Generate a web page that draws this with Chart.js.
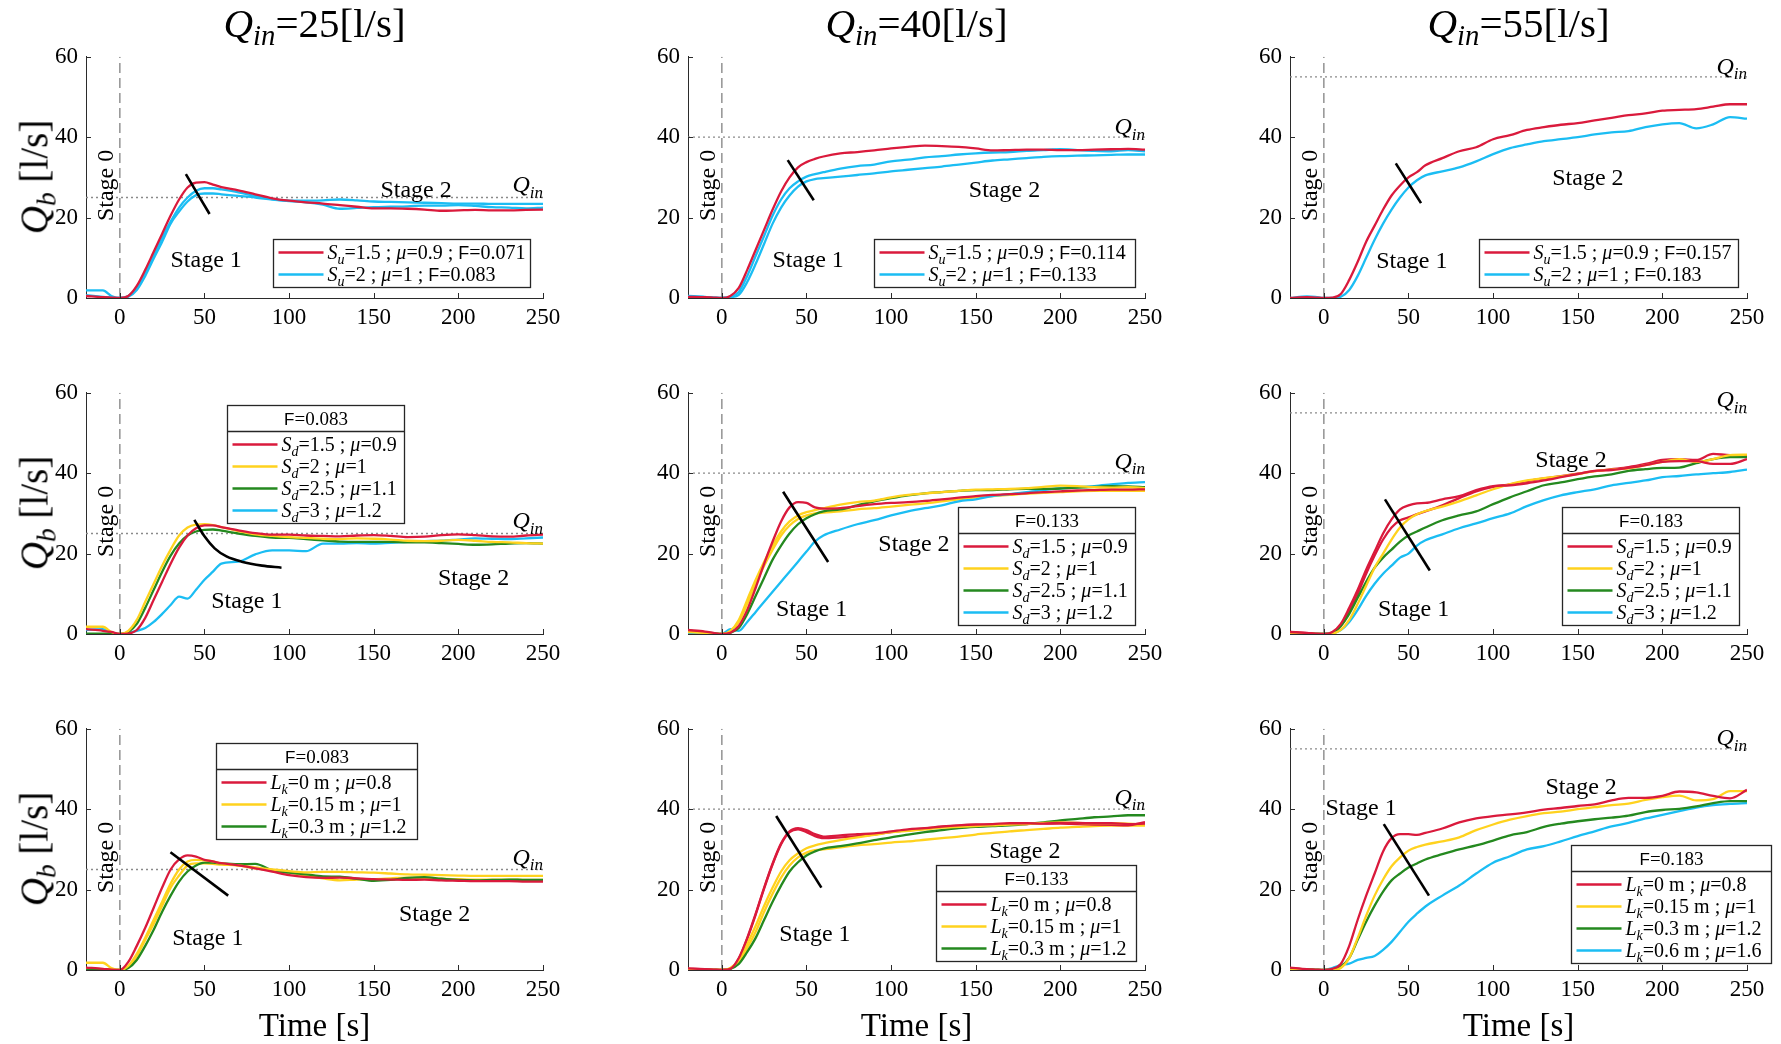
<!DOCTYPE html>
<html>
<head>
<meta charset="utf-8">
<script src="https://cdn.jsdelivr.net/npm/chart.js@4.4.1/dist/chart.umd.min.js"></script>
<style>
  body { margin: 0; background: #fff; }
  #page { position: relative; width: 1781px; height: 1044px; overflow: hidden; font-family: "Liberation Serif", "DejaVu Serif", serif; color: #000; }
  canvas { position: absolute; }
  .lbl { position: absolute; transform: translate(-50%, -50%); white-space: nowrap; line-height: 1; }
  .ttl { font-size: 41px; }
  .ylab { font-size: 39px; transform: translate(-50%, -50%) rotate(-90deg); }
  .xlab { font-size: 33px; }
  .lbl sub { font-size: 0.7em; vertical-align: -0.28em; line-height: 0; }
</style>
</head>
<body>
<div id="page"></div>
<script>
const times = [-20,-10,-5,0,5,10,15,20,25,30,35,40,45,50,55,60,70,80,90,100,110,120,130,140,150,160,170,180,190,200,210,220,230,240,250];
const xTicks = [0, 50, 100, 150, 200, 250];
const yTicks = [0, 20, 40, 60];
const inflows = [25, 40, 55];

// row 1 - upstream slope S_u
const su25Red   = [0.5,0.2,0.1,0,0.5,3,7,11.5,16,20.5,24.5,27.5,28.7,28.8,28.2,27.6,26.8,25.8,24.8,24.2,23.8,23.5,23.1,22.7,22.3,22.3,22.2,22.0,21.7,21.8,21.9,21.8,21.8,21.9,22.0];
const su25CyanA = [1.9,1.9,0.5,0,0.5,2.5,6.5,10.5,15,19,22.5,25,26.7,27.3,27.3,27,26.3,25.4,24.6,24.2,24.2,24.3,24.5,24.3,24.0,23.9,23.8,23.7,23.6,23.5,23.5,23.4,23.4,23.4,23.4];
const su25CyanB = [0.7,0.3,0.1,0,0.3,2,5.5,9.8,14,18.5,21.5,24,25.6,26,26,25.8,25.4,25,24.5,24.1,23.8,23.2,22.2,22.4,22.6,22.7,22.8,23,23,23.1,22.9,22.6,22.5,22.3,22.5];
const su40Red   = [0.3,0.2,0.1,0,0.5,2.5,7,12,17,22,26.5,30,32.5,33.8,34.6,35.2,36,36.3,36.7,37.2,37.6,37.9,37.8,37.6,37.2,36.7,36.8,36.9,36.9,36.8,36.8,36.9,37,37.1,36.9];
const su40CyanA = [0.5,0.3,0.1,0,0.3,1.5,5.5,10.5,15.5,20.5,24.5,27.3,29,30.2,30.8,31.3,32.2,32.8,33.2,34,34.4,35,35.3,35.7,36,36.2,36.3,36.6,36.8,37,36.8,36.6,36.5,36.8,36.5];
const su40CyanB = [0.4,0.2,0.1,0,0.2,0.8,4,8.5,13.5,18.5,22.5,25.5,27.7,29,29.6,29.8,30.2,30.6,31,31.5,31.9,32.3,32.7,33.2,33.7,34.2,34.5,34.8,35.1,35.3,35.4,35.5,35.6,35.7,35.7];
const su55Red   = [0,0.2,0.1,0,0.1,1,4.5,9,14,18,22,25.5,28,30,31.3,33,34.8,36.5,37.5,39.5,40.5,41.8,42.5,43.1,43.5,44.2,44.8,45.5,45.9,46.6,46.8,47,47.6,48.2,48.2];
const su55Cyan  = [0,0.4,0.3,0,0,0.3,2,5.5,10,14.5,18.5,22,25,27.5,29.3,30.5,31.5,32.5,34,35.8,37.3,38.2,39,39.5,40,40.7,41.2,41.5,42.5,43.2,43.5,42.2,43.2,45,44.6];

// row 2 - downstream slope S_d
const sd25Red    = [1.2,0.8,0.5,0,0.1,1,4,8.5,13,17.5,21.5,24.5,26.3,27,27,26.6,25.8,25.1,24.7,24.7,24.5,24.4,24.3,24.5,24.6,24.4,24.1,24.2,24.6,24.8,24.6,24.3,24.2,24.5,24.7];
const sd25Yellow = [1.8,1.8,0.5,0,0.8,3.5,8,12.5,17,21,24.5,26.5,27.2,27.3,27.1,26.6,25.6,24.8,24.4,24.1,23.9,23.7,23.6,23.8,23.7,23.5,23.2,23.1,23.2,23.4,23.2,22.9,22.8,22.6,22.5];
const sd25Green  = [0.1,0.1,0.05,0,0.5,2.5,6.5,11,15.5,19.5,22.5,24.5,25.5,25.9,26,25.7,25,24.4,24,23.9,23.6,23.3,23,22.9,22.9,22.9,22.8,22.8,22.6,22.4,22.2,22.3,22.5,22.6,22.5];
const sd25Cyan   = [1,1.2,0.3,0,0.3,0.8,1.5,3,5,7.2,9.3,8.8,11,13.5,15.5,17.5,18,19.8,20.8,20.8,20.6,22.5,22.5,22.6,22.5,22.7,22.9,23.1,23.2,23.5,23.8,23.7,23.6,23.8,24];
const sd40Red     = [1,0.6,0.3,0,0.3,2,6,11.5,17.5,23,28,31.5,32.8,32.6,31.5,31.2,31.3,31.8,32.3,32.6,32.8,33.1,33.5,33.9,34.3,34.6,34.8,35,35.3,35.5,35.7,35.8,35.9,35.9,36];
const sd40YellowA = [0.5,0.3,0.1,0,0.8,3.5,8.5,13.5,18,22,25.5,28,29.5,30.3,30.8,31.3,32.2,32.8,33.2,34,34.6,35,35.3,35.6,35.9,36,36.1,36.3,36.6,36.9,36.8,36.5,36.4,36.5,36.3];
const sd40YellowB = [0.4,0.2,0.1,0,0.6,3,7.5,12.5,17,21,24.5,27,28.6,29.5,30,30.2,30.5,31,31.3,31.7,32.1,32.5,33,33.5,34,34.3,34.6,34.9,35.1,35.3,35.5,35.6,35.6,35.6,35.6];
const sd40Green   = [0.9,0.4,0.2,0,0.3,1.5,5,9.5,14,18.5,22,25,27.3,28.8,29.8,30.5,31,32,33,33.8,34.5,35,35.3,35.6,35.8,35.8,36,36.1,36.1,36.2,36.4,36.6,36.8,36.7,36.5];
const sd40Cyan    = [0.3,0.2,0.1,0,1.2,0.8,3,5.5,8,10.5,13,15.5,18,20.5,23,24.5,26,27.3,28.3,29.5,30.5,31.3,32,33,33.5,34.3,34.8,35.3,35.8,36.2,36.5,36.8,37.2,37.6,37.8];
const sd55RedA   = [0.5,0.3,0.1,0,0.5,2.5,6.5,11,16,20.5,25,28.5,31,32,32.5,32.6,33.5,34.3,35.8,36.8,37,37.5,38.2,39,39.8,40.6,40.8,41.3,42,42.8,43,43,42.3,42.3,43.5];
const sd55RedB   = [0.5,0.2,0.1,0,0.3,2,5.5,10,15,19.5,23.5,26.5,28.3,29,29.8,30.5,32,33.8,35.5,36.6,37.2,38,38.7,39.3,39.9,40.5,41,41.5,42.3,43.3,43.5,43.3,44.8,44.5,44.5];
const sd55Yellow = [0.3,0.1,0.05,0,0.1,1,3.5,7.5,12,16.5,20,23.5,26.5,28.5,29.8,30.6,31.7,33,34.5,36,37.3,38.2,38.8,39.2,39.8,40.5,40.9,41.2,42,42.8,43.5,42.8,43.5,44.5,44.6];
const sd55Green  = [0,0,0,0,0.3,2,5,9,13,16.5,19,21,23,24.5,25.5,26.5,28.3,29.5,30.5,32.3,34,35.5,37,37.7,38.5,39.2,39.7,40.6,41,41.3,41.4,42.5,43.5,44,44];
const sd55Cyan   = [0,0,0,0,0.2,1,3,6,9.5,12.5,15,17,19,20,22,23.3,24.8,26.3,27.5,28.8,30,31.8,33.3,34.5,35.3,36,37,37.6,38.2,39,39.3,39.7,40,40.3,40.9];

// row 3 - step length L_k
const lk25Red     = [0.6,0.3,0.1,0,2,6,10.5,15.5,20.5,25,27.5,28.5,28.2,27.4,27,26.6,26,25.3,24.5,23.6,23.1,22.9,23,22.8,22.6,22.5,22.4,22.5,22.3,22.2,22.1,22.1,22.1,22,22];
const lk25YellowA = [1.8,1.8,0.5,0,1,4,8,12.5,17,21.5,25,27,27.4,27.3,27,26.5,26,25.5,25,24.6,24.3,24.4,24.4,24.3,24.2,24,23.8,23.7,23.6,23.5,23.4,23.4,23.4,23.4,23.4];
const lk25YellowB = [0.5,0.2,0.1,0,0.8,3.5,7.5,11.5,16,20.5,23.5,26,26.5,26.5,26.4,26.2,26,25.3,24.8,24.2,23.5,22.8,22.3,22.5,22.6,22.8,23,22.9,22.7,22.6,22.5,22.5,22.5,22.4,22.4];
const lk25Green   = [0,0,0,0,0.5,2.5,6,10,14.5,18.5,22,24.5,26,26.7,26.7,26.5,26.3,26.4,24.8,24.2,23.8,23.3,23.2,22.7,22.2,22.4,22.9,23.1,22.7,22.4,22.3,22.4,22.5,22.4,22.4];
const lk40RedA    = [0.4,0.2,0.1,0,0.3,3,8,14,20.5,26.5,31.5,34.5,35.3,34.8,33.8,33.2,33.5,33.8,34,34.5,35,35.3,35.7,36,36.2,36.3,36.5,36.5,36.4,36.6,36.6,36.5,36.5,36.3,36.4];
const lk40RedB    = [0.3,0.2,0.1,0,0.3,2.8,7.8,13.8,20.3,26.3,31.3,34.3,35,34.3,33.3,32.8,33,33.3,33.7,34.3,34.8,35.2,35.6,35.9,36.1,36.2,36.3,36.3,36.5,36.4,36.3,36.2,36.1,36,36.8];
const lk40YellowA = [0.3,0,0,0,0.5,2.5,6.5,11,16,20.5,24.5,27.3,29,30.3,31,31.5,32.3,33,33.6,34.3,34.6,35,35.4,35.6,35.8,36,36.2,36.3,36.6,36.7,36.6,36.5,36.5,36.4,36.1];
const lk40YellowB = [0.2,0,0,0,0.3,2,5.5,9.5,14.5,19,23,26,28,29.2,29.8,30,30.5,31,31.3,31.7,32,32.4,32.8,33.2,33.7,34.1,34.5,34.8,35.1,35.4,35.6,35.8,35.9,35.9,35.9];
const lk40Green   = [0,0,0,0,0.3,1.5,4.5,8,12.5,17,21,24.5,26.8,28.5,29.5,30.2,30.8,31.5,32.3,33,33.7,34.3,34.8,35.3,35.6,35.8,36,36.3,36.7,37.2,37.6,38,38.2,38.5,38.5];
const lk55Red     = [0.6,0.2,0.1,0,0.3,1.5,6,12.5,18.5,24,29.5,32.8,33.8,33.8,33.6,34.1,35.2,36.7,37.7,38.3,38.7,39.2,39.9,40.3,40.8,41.2,42.2,42.8,42.8,43.3,44.4,44.2,43.3,42.7,44.8];
const lk55Yellow  = [0,0,0,0,0,0.5,3,8,13.5,18.5,22.5,25.8,28,29.7,30.6,31.2,32,33,34.8,36.2,37.4,38.3,39,39.4,40,40.5,41,41.4,42.3,43,43.4,42.2,42.5,44.5,44.5];
const lk55Green   = [0.3,0.2,0.1,0,0.2,0.8,3,7.5,12,16,19.5,22.3,24,25.5,26.5,27.5,28.8,30,31,32.2,33.5,34.3,35.6,36.4,37,37.5,37.9,38.4,39.3,39.8,40.1,40.7,41.5,42,42];
const lk55Cyan    = [0,0,0,0,0.5,1.2,1.6,2.5,3,3.5,5,7,9.5,12,14,15.8,18.5,21,24,26.7,28.3,30,30.8,32,33.3,34.5,35.7,36.6,37.7,38.6,39.5,40.4,41,41.3,41.5];

// stage 1 / stage 2 boundary marks [t, Q]
const cutSu25 = [[39,30.8],[53,20.9]];
const cutSu40 = [[38.9,34.3],[54.3,24.3]];
const cutSu55 = [[42.5,33.5],[57.4,23.6]];
const cutSd25 = [[44,28.4],[50,24.3],[56,21.3],[63,19.3],[72,18],[84,17],[95.5,16.5]];
const cutSd40 = [[36.2,35.4],[62.8,17.9]];
const cutSd55 = [[36.1,33.5],[62.6,15.8]];
const cutLk25 = [[29.9,29.3],[64,18.5]];
const cutLk40 = [[32.1,38.3],[58.8,20.5]];
const cutLk55 = [[35.4,36.3],[62.1,18.5]];

const RED = '#DA1A3C', YEL = '#FFD21E', GRN = '#24891F', CYN = '#1BBDF3';
const AXIS = '#2b2b2b';
const SERIF = '"Liberation Serif", "DejaVu Serif", serif';
const SANS = '"Liberation Sans", "DejaVu Sans", sans-serif';

const su = (s, m, f) => `{i:S}{sub:u}=${s} ; {i:μ}=${m} ; {sf:F}=${f}`;
const sd = (s, m) => `{i:S}{sub:d}=${s} ; {i:μ}=${m}`;
const lk = (l, m) => `{i:L}{sub:k}=${l} m ; {i:μ}=${m}`;

const panels = [
  { row: 0, col: 0, q: 25, cut: cutSu25, s1: [51, 9.7], s2: [175, 27.2], qLab: 28.3,
    box: { dx: 187, dy: 182, w: 257 },
    runs: [[su25Red, RED, su(1.5, 0.9, 0.071)], [su25CyanA, CYN, su(2, 1, 0.083)], [su25CyanB, CYN]] },
  { row: 0, col: 1, q: 40, cut: cutSu40, s1: [51, 9.7], s2: [167, 27], qLab: 42.7,
    box: { dx: 186, dy: 182, w: 261 },
    runs: [[su40Red, RED, su(1.5, 0.9, 0.114)], [su40CyanA, CYN, su(2, 1, 0.133)], [su40CyanB, CYN]] },
  { row: 0, col: 2, q: 55, cut: cutSu55, s1: [52, 9.5], s2: [156, 30.2], qLab: 57.8,
    box: { dx: 189, dy: 182, w: 259 },
    runs: [[su55Red, RED, su(1.5, 0.9, 0.157)], [su55Cyan, CYN, su(2, 1, 0.183)]] },

  { row: 1, col: 0, q: 25, cut: cutSd25, s1: [75, 8.5], s2: [209, 14.1], qLab: 28.3,
    box: { dx: 141, dy: 12, w: 177, header: '{sf:F}=0.083' },
    runs: [[sd25Red, RED, sd(1.5, 0.9)], [sd25Yellow, YEL, sd(2, 1)], [sd25Green, GRN, sd(2.5, 1.1)], [sd25Cyan, CYN, sd(3, 1.2)]] },
  { row: 1, col: 1, q: 40, cut: cutSd40, s1: [53, 6.4], s2: [113.5, 22.7], qLab: 43.1,
    box: { dx: 270, dy: 114, w: 177, header: '{sf:F}=0.133' },
    runs: [[sd40Red, RED, sd(1.5, 0.9)], [sd40YellowA, YEL, sd(2, 1)], [sd40Green, GRN, sd(2.5, 1.1)], [sd40Cyan, CYN, sd(3, 1.2)], [sd40YellowB, YEL]] },
  { row: 1, col: 2, q: 55, cut: cutSd55, s1: [53, 6.4], s2: [146, 43.4], qLab: 58.4,
    box: { dx: 272, dy: 114, w: 177, header: '{sf:F}=0.183' },
    runs: [[sd55RedA, RED, sd(1.5, 0.9)], [sd55Yellow, YEL, sd(2, 1)], [sd55Green, GRN, sd(2.5, 1.1)], [sd55Cyan, CYN, sd(3, 1.2)], [sd55RedB, RED]] },

  { row: 2, col: 0, q: 25, cut: cutLk25, s1: [52, 8.2], s2: [186, 14.2], qLab: 28.2,
    box: { dx: 130, dy: 14, w: 201, header: '{sf:F}=0.083' },
    runs: [[lk25Red, RED, lk(0, 0.8)], [lk25YellowA, YEL, lk(0.15, 1)], [lk25Green, GRN, lk(0.3, 1.2)], [lk25YellowB, YEL]] },
  { row: 2, col: 1, q: 40, cut: cutLk40, s1: [55, 9.2], s2: [179, 29.9], qLab: 43.1,
    box: { dx: 248, dy: 136, w: 200, header: '{sf:F}=0.133' },
    runs: [[lk40RedA, RED, lk(0, 0.8)], [lk40YellowA, YEL, lk(0.15, 1)], [lk40Green, GRN, lk(0.3, 1.2)], [lk40RedB, RED], [lk40YellowB, YEL]] },
  { row: 2, col: 2, q: 55, cut: cutLk55, s1: [22, 40.6], s2: [152, 45.7], qLab: 58,
    box: { dx: 281, dy: 116, w: 200, header: '{sf:F}=0.183' },
    runs: [[lk55Red, RED, lk(0, 0.8)], [lk55Yellow, YEL, lk(0.15, 1)], [lk55Green, GRN, lk(0.3, 1.2)], [lk55Cyan, CYN, lk(0.6, 1.6)]] },
];

// page geometry
const colLeft = [86, 688, 1290];
const rowTop = [55, 391, 727];
const PLOT_W = 457, PLOT_H = 243;
const AXIS_W = 62, AXIS_H = 45, PAD_T = 20, PAD_R = 34;
const HEAD_H = 26, ROW_H = 22, LEG_FONT = 20;

const page = document.getElementById('page');

// tiny markup: {i:x} italic, {sub:x} italic subscript, {sf:x} sans, rest roman
function parts(str) {
  const out = [];
  str.replace(/\{(\w+):([^}]*)\}|([^{]+)/g, (m, k, t, plain) => {
    out.push(plain !== undefined ? ['r', plain] : [k, t]);
    return m;
  });
  return out;
}
function fontOf(k, size) {
  if (k === 'i') return `italic ${size}px ${SERIF}`;
  if (k === 'sub') return `italic ${Math.round(size * 0.7)}px ${SERIF}`;
  if (k === 'sf') return `${Math.round(size * 0.92)}px ${SANS}`;
  return `${size}px ${SERIF}`;
}
function drawRich(ctx, str, x, y, size, align) {
  const ps = parts(str);
  let total = 0;
  ps.forEach(([k, t]) => { ctx.font = fontOf(k, size); total += ctx.measureText(t).width; });
  let cx = align === 'center' ? x - total / 2 : align === 'right' ? x - total : x;
  const base = y + size * 0.33;
  ctx.textAlign = 'left';
  ctx.textBaseline = 'alphabetic';
  ctx.fillStyle = '#000';
  ps.forEach(([k, t]) => {
    ctx.font = fontOf(k, size);
    ctx.fillText(t, cx, base + (k === 'sub' ? size * 0.24 : 0));
    cx += ctx.measureText(t).width;
  });
}
function seg(ctx, x1, y1, x2, y2) {
  ctx.beginPath(); ctx.moveTo(x1, y1); ctx.lineTo(x2, y2); ctx.stroke();
}

function decorFor(p) {
  return {
    id: 'decor',
    afterDraw(chart) {
      const ctx = chart.ctx, a = chart.chartArea;
      const xs = chart.scales.x, ys = chart.scales.y;
      ctx.save();
      // inward tick marks
      ctx.strokeStyle = AXIS; ctx.lineWidth = 1;
      xTicks.forEach(v => { const px = Math.round(xs.getPixelForValue(v)) + 0.5; seg(ctx, px, a.bottom, px, a.bottom - 5); });
      yTicks.forEach(v => { const py = Math.round(ys.getPixelForValue(v)) + 0.5; seg(ctx, a.left, py, a.left + 5, py); });

      // stage annotations
      ctx.save();
      ctx.translate(xs.getPixelForValue(-9), ys.getPixelForValue(28));
      ctx.rotate(-Math.PI / 2);
      drawRich(ctx, 'Stage 0', 0, 0, 24, 'center');
      ctx.restore();
      drawRich(ctx, 'Stage 1', xs.getPixelForValue(p.s1[0]), ys.getPixelForValue(p.s1[1]), 24, 'center');
      drawRich(ctx, 'Stage 2', xs.getPixelForValue(p.s2[0]), ys.getPixelForValue(p.s2[1]), 24, 'center');
      drawRich(ctx, '{i:Q}{sub:in}', xs.getPixelForValue(250), ys.getPixelForValue(p.qLab), 24, 'right');

      // legend box
      const b = p.box, items = p.runs.filter(r => r[2]);
      const head = b.header ? HEAD_H : 0;
      const bx = Math.round(a.left + b.dx) + 0.5, by = Math.round(a.top + b.dy) + 0.5;
      const bh = head + items.length * ROW_H + 4;
      ctx.fillStyle = '#fff';
      ctx.fillRect(bx, by, b.w, bh);
      ctx.strokeStyle = '#262626'; ctx.lineWidth = 1.3;
      ctx.strokeRect(bx, by, b.w, bh);
      if (b.header) {
        seg(ctx, bx, by + head, bx + b.w, by + head);
        drawRich(ctx, b.header, bx + b.w / 2, by + head / 2, 19, 'center');
      }
      items.forEach((r, i) => {
        const cy = by + head + 2 + ROW_H * (i + 0.5);
        ctx.strokeStyle = r[1]; ctx.lineWidth = 2.5;
        seg(ctx, bx + 5, cy, bx + 50, cy);
        drawRich(ctx, r[2], bx + 54, cy, LEG_FONT, 'left');
      });
      ctx.restore();
    }
  };
}

function makePanel(p) {
  const cv = document.createElement('canvas');
  cv.width = AXIS_W + PLOT_W + PAD_R;
  cv.height = PAD_T + PLOT_H + AXIS_H;
  cv.style.left = (colLeft[p.col] - AXIS_W) + 'px';
  cv.style.top = (rowTop[p.row] - PAD_T) + 'px';
  page.appendChild(cv);

  const datasets = [];
  datasets.push({ data: p.cut.map(([x, y]) => ({ x, y })), borderColor: '#000', borderWidth: 2.6, cubicInterpolationMode: 'monotone' });
  p.runs.forEach(r => datasets.push({
    data: times.map((t, i) => ({ x: t, y: r[0][i] })),
    borderColor: r[1], borderWidth: 2.3, cubicInterpolationMode: 'monotone'
  }));
  datasets.push({ data: [{ x: -20, y: p.q }, { x: 250, y: p.q }], borderColor: '#8a8a8a', borderWidth: 1.3, borderDash: [2, 3] });
  datasets.push({ data: [{ x: 0, y: 0 }, { x: 0, y: 60 }], borderColor: '#8a8a8a', borderWidth: 1.4, borderDash: [10, 5] });

  new Chart(cv, {
    type: 'line',
    data: { datasets },
    options: {
      responsive: false,
      animation: false,
      events: [],
      layout: { padding: { top: PAD_T, right: PAD_R, left: 0, bottom: 0 } },
      plugins: { legend: { display: false }, tooltip: { enabled: false } },
      elements: { point: { radius: 0 }, line: { borderJoinStyle: 'round' } },
      scales: {
        x: {
          type: 'linear', min: -20, max: 250,
          afterBuildTicks: s => { s.ticks = xTicks.map(v => ({ value: v })); },
          afterFit: s => { s.height = AXIS_H; },
          grid: { display: false, drawTicks: false },
          border: { display: true, color: AXIS, width: 1 },
          ticks: { font: { family: SERIF, size: 23 }, color: '#000', padding: 6, maxRotation: 0, autoSkip: false }
        },
        y: {
          min: 0, max: 60,
          afterBuildTicks: s => { s.ticks = yTicks.map(v => ({ value: v })); },
          afterFit: s => { s.width = AXIS_W; },
          grid: { display: false, drawTicks: false },
          border: { display: true, color: AXIS, width: 1 },
          ticks: { font: { family: SERIF, size: 23 }, color: '#000', padding: 8, autoSkip: false }
        }
      }
    },
    plugins: [decorFor(p)]
  });
}

panels.forEach(makePanel);

// column titles, y-axis titles and time labels
function addLabel(cls, html, x, y) {
  const d = document.createElement('div');
  d.className = 'lbl ' + cls;
  d.innerHTML = html;
  d.style.left = x + 'px';
  d.style.top = y + 'px';
  page.appendChild(d);
}
inflows.forEach((q, c) => {
  const cx = colLeft[c] + PLOT_W / 2;
  addLabel('ttl', `<i>Q</i><sub><i>in</i></sub>=${q}[l/s]`, cx, 23);
  addLabel('xlab', 'Time [s]', cx, 1025);
});
rowTop.forEach(t => addLabel('ylab', '<i>Q</i><sub><i>b</i></sub> [l/s]', 34, t + PLOT_H / 2));
</script>
</body>
</html>
